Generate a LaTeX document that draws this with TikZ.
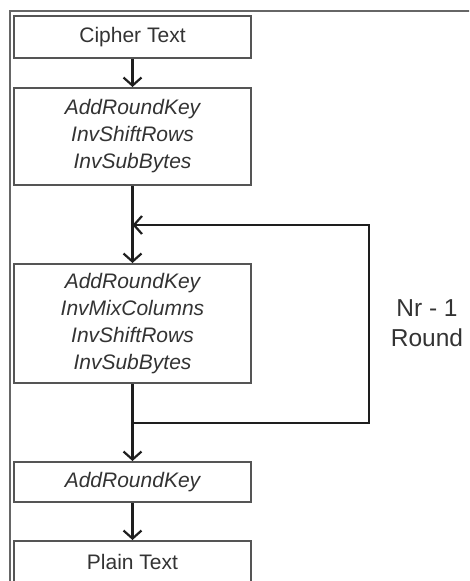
\documentclass[tikz,border=0pt]{standalone}
\usepackage{fontspec}
\setmainfont{Liberation Sans}
\usetikzlibrary{arrows.meta}
\definecolor{boxgray}{HTML}{555555}
\definecolor{textgray}{HTML}{333333}
\definecolor{linegray}{HTML}{1E1E1E}
\definecolor{framegray}{HTML}{666666}
\begin{document}
\begin{tikzpicture}[x=1pt,y=-1pt,
  box/.style={draw=boxgray, line width=2pt, minimum width=237pt, inner sep=0pt,
    align=center, text=textgray, font=\fontsize{21}{27}\selectfont},
  conn/.style={draw=linegray, line width=2.2pt, -{Straight Barb[length=8pt,width=18pt,line width=2.2pt]}},
  plain/.style={draw=linegray, line width=2.2pt}]
\clip (0,0) rectangle (469,581);
\useasboundingbox (0,0) rectangle (469,581);
\draw[framegray, line width=2pt] (10,600) -- (10,11) -- (480,11);
\node[box, minimum height=42pt] (c1) at (132.5,37) {Cipher Text};
\node[box, minimum height=97pt] (b2) at (132.5,136.5) {\itshape AddRoundKey\\\itshape InvShiftRows\\\itshape InvSubBytes};
\node[box, minimum height=119pt] (b3) at (132.5,323.5) {\itshape AddRoundKey\\\itshape InvMixColumns\\\itshape InvShiftRows\\\itshape InvSubBytes};
\node[box, minimum height=40pt] (b4) at (132.5,482) {\itshape AddRoundKey};
\node[box, minimum height=42pt] (b5) at (132.5,562) {Plain Text};
\coordinate (j1) at (132.5,225);
\coordinate (j2) at (132.5,423);
\coordinate (r1) at (369,225);
\coordinate (r2) at (369,423);
\draw[conn] (c1.south) -- (b2.north);
\draw[conn] (b2.south) -- (b3.north);
\draw[conn] (b3.south) -- (b4.north);
\draw[conn] (b4.south) -- (b5.north);
\draw[conn] (j2) -- (r2) -- (r1) -- (j1);
\node[align=center, text=textgray, font=\fontsize{24.5}{30}\selectfont] (lbl) at (427,323) {Nr - 1\\Round};
\end{tikzpicture}
\end{document}
